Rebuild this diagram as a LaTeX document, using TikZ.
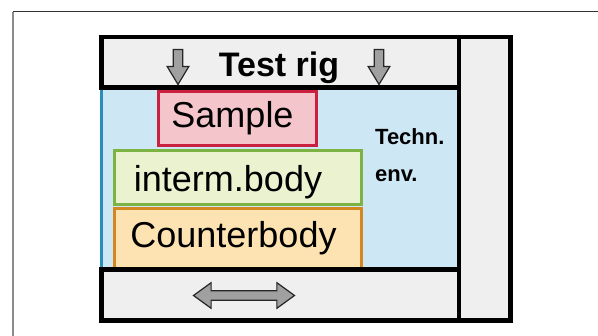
\documentclass[tikz,border=0pt]{standalone}
\usepackage{fontspec}
\setmainfont{Liberation Sans}
\usepackage{xcolor}
\usepackage{tikz}
\usetikzlibrary{shapes.arrows, positioning}

\definecolor{riggray}{HTML}{EFEFEF}
\definecolor{envblue}{HTML}{CDE8F4}
\definecolor{envedge}{HTML}{2A8EB8}
\definecolor{samplered}{HTML}{C9213F}
\definecolor{samplefill}{HTML}{F4C5CA}
\definecolor{intermgreen}{HTML}{7CB342}
\definecolor{intermfill}{HTML}{EAF2CF}
\definecolor{counterorange}{HTML}{D5871F}
\definecolor{counterfill}{HTML}{FDE3B1}
\definecolor{arrowgray}{HTML}{A0A0A0}

\begin{document}
\begin{tikzpicture}[x=1pt, y=-1pt]
    % Define styles
    \tikzstyle{panel}=[draw=black, line width=4.5pt, fill=riggray, inner sep=0pt]
    \tikzstyle{part}=[line width=3pt, inner sep=0pt]
    \tikzstyle{big label}=[font=\fontsize{36}{40}\selectfont, anchor=base, inner sep=0pt]
    \tikzstyle{small label}=[font=\bfseries\fontsize{22}{24}\selectfont, anchor=base west, inner sep=0pt]
    \tikzstyle{fat arrow}=[draw=black!85, fill=arrowgray, line width=1.2pt]

    \useasboundingbox (0,0) rectangle (598,336);

    % Frame of the page
    \draw[black!80, line width=1pt] (598,12) -- (13,12);
    \draw[black!45, line width=1.5pt] (13,12) -- (13,336);

    % Technical environment
    \node[fill=envblue, inner sep=0pt, minimum width=357.3pt, minimum height=182.2pt] (env) at (280.15,178.6) {};
    \draw[envedge, line width=3.5pt] (env.north west) -- (env.south west);

    % Draw the bodies
    \foreach \name/\col/\bg/\x/\y/\w/\h in {counter/counterorange/counterfill/238/239.3/247/60.7,
                                           interm/intermgreen/intermfill/238/177.75/247/54.5,
                                           sample/samplered/samplefill/237.5/118.75/158/54.5}
        \node[part, draw=\col, fill=\bg, minimum width=\w pt, minimum height=\h pt] (\name) at (\x,\y) {};

    % Draw the test rig
    \node[panel, minimum width=357.3pt, minimum height=50.7pt] (rig top) at (280.15,62.15) {};
    \node[panel, minimum width=357.3pt, minimum height=50.6pt] (rig bottom) at (280.15,295) {};
    \node[panel, minimum width=51.5pt, minimum height=283.5pt] (rig side) at (484.55,178.55) {};

    % Labels
    \node[big label] (sample label) at (232.5,128) {Sample};
    \node[big label] (interm label) at (228,192) {interm.body};
    \node[big label] (counter label) at (233.5,248) {Counterbody};
    \node[big label, font=\bfseries\fontsize{34}{38}\selectfont] (rig label) at (279,77) {Test rig};
    \node[small label] (techn label) at (375,145) {Techn.};
    \node[small label] (env label) at (375,182) {env.};

    % Load and motion arrows
    \foreach \name/\x in {load left/178, load right/379}
        \node[fat arrow, single arrow, shape border rotate=270, inner sep=4.2pt,
              minimum height=35pt, single arrow head extend=6pt, single arrow tip angle=62] (\name) at (\x,63) {};
    \node[fat arrow, double arrow, inner sep=4.2pt, minimum height=101pt,
          double arrow head extend=8pt, double arrow tip angle=72] (motion) at (244,295.5) {};

\end{tikzpicture}
\end{document}
